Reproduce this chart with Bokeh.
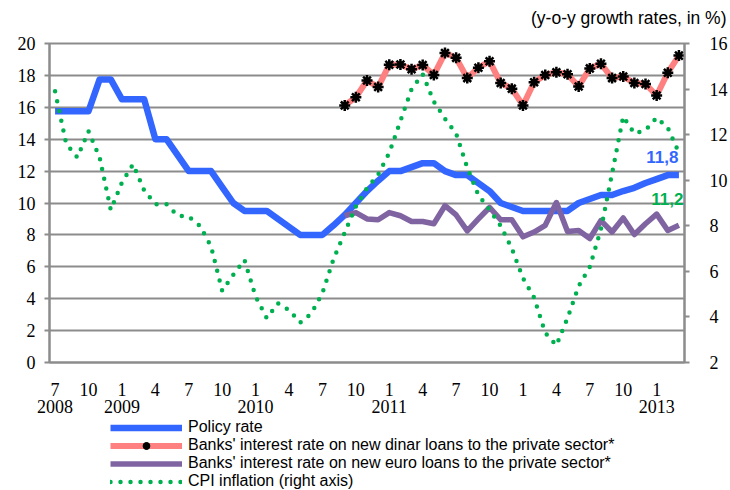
import pandas as pd
from bokeh.plotting import figure
from bokeh.layouts import column
from bokeh.models import (Range1d, LinearAxis, FixedTicker, Legend, LegendItem, Label, Title, Grid)
from bokeh.embed import file_html
from bokeh.resources import INLINE

# ---- data ----
months = [str(p) for p in pd.period_range("2008-07", "2013-03", freq="M")]

policy_rate = [15.75, 15.75, 15.75, 15.75, 17.75, 17.75, 16.5, 16.5, 16.5, 14, 14, 13,
               12, 12, 12, 11, 10, 9.5, 9.5, 9.5, 9, 8.5, 8, 8,
               8, 8.6, 9.25, 10, 10.75, 11.4, 12, 12, 12.25, 12.5, 12.5, 12,
               11.75, 11.75, 11.25, 10.75, 10, 9.75, 9.5, 9.5, 9.5, 9.5, 9.5, 10,
               10.25, 10.5, 10.5, 10.75, 10.95, 11.25, 11.5, 11.75, 11.75]

loans_start = "2010-09"
dinar_loans = [16.12, 16.63, 17.68, 17.27, 18.67, 18.68, 18.38, 18.65, 18.03, 19.4, 19.1,
               17.83, 18.48, 18.89, 17.52, 17.17, 16.12, 17.57, 18.03, 18.2, 18.07, 17.31,
               18.44, 18.73, 17.83, 17.93, 17.52, 17.46, 16.74, 18.17, 19.24]
euro_loans = [9.2, 9.4, 9.0, 8.95, 9.4, 9.2, 8.84, 8.84, 8.7, 9.83, 9.25,
              8.25, 9.0, 9.72, 8.95, 8.95, 7.88, 8.18, 8.6, 10.03, 8.22, 8.28,
              7.77, 8.9, 8.18, 9.06, 8.02, 8.7, 9.3, 8.28, 8.6]

cpi = [13.9, 11.6, 11.0, 12.15, 11.0, 8.7, 9.9, 10.7, 9.55, 8.95, 8.95, 8.45,
       8.4, 8.0, 7.1, 5.15, 5.85, 6.5, 4.9, 3.95, 4.6, 4.3, 3.75, 4.15,
       5.05, 6.55, 7.7, 8.85, 9.65, 10.25, 11.2, 12.6, 14.0, 14.65, 13.45, 12.7,
       12.05, 10.55, 9.35, 8.7, 8.0, 7.0, 5.7, 4.85, 3.3, 2.75, 3.95, 5.35,
       6.2, 7.85, 10.3, 12.8, 12.05, 12.2, 12.75, 12.3, 11.2]

month_tick_labels = ["7", "10", "1", "4"] * 4 + ["7", "10", "1"]
year_tick_months = ["2008-07", "2009-01", "2010-01", "2011-01", "2013-01"]
year_tick_labels = ["2008", "2009", "2010", "2011", "2013"]

left_ticks = list(range(0, 21, 2))
right_ticks = list(range(2, 17, 2))

last_policy_label = "11,8"
last_cpi_label = "11,2"
unit_note = "(y-o-y growth rates, in %)"

legend_labels = ["Policy rate",
                 "Banks' interest rate on new dinar loans to the private sector*",
                 "Banks' interest rate on new euro loans to the private sector*",
                 "CPI inflation (right axis)"]

# ---- derived positions ----
x_all = list(range(len(months)))
i0 = months.index(loans_start)
x_loans = x_all[i0:i0 + len(dinar_loans)]
month_ticks = x_all[::3][:len(month_tick_labels)]
year_of_tick = {months.index(m): y for m, y in zip(year_tick_months, year_tick_labels)}
tick_text = {t: (l + "\n" + year_of_tick[t]) if t in year_of_tick else l
             for t, l in zip(month_ticks, month_tick_labels)}

BLUE = "#3366FF"
RED = "#FF8080"
PURPLE = "#8064A2"
GREEN = "#00B050"
GRID = "#8C8C8C"
SERIF = "Liberation Serif"
SANS = "Liberation Sans"

BLUE_STYLE = dict(line_color=BLUE, line_width=6.5, line_join="round")
RED_STYLE = dict(line_color=RED, line_width=6, line_join="round")
MARK1 = dict(marker="asterisk", size=11, line_color="black", line_width=2.5)
MARK2 = dict(marker="circle", size=5, fill_color="black", line_color="black")
PURPLE_STYLE = dict(line_color=PURPLE, line_width=5.5, line_join="round")
GREEN_STYLE = dict(line_color=GREEN, line_width=4.5, line_dash="0 10", line_cap="round")

p = figure(width=730, height=419, output_backend="svg", toolbar_location=None,
           x_range=Range1d(-0.5, len(months) - 0.5), y_range=Range1d(0, 20),
           min_border_left=49, min_border_right=39, min_border_top=43, min_border_bottom=51,
           x_axis_type=None, y_axis_type=None)
p.background_fill_color = "white"
p.border_fill_color = "white"
p.outline_line_color = GRID
p.outline_line_width = 2
p.extra_y_ranges = {"cpi": Range1d(2, 16)}

# unit note as a right-aligned title above the frame
t = Title(text=unit_note + "\n", align="right", offset=-42, vertical_align="top", standoff=-12,
          text_font=SANS, text_font_size="17.5px", text_font_style="normal", text_color="black",
          text_line_height=1.0)
p.add_layout(t, "above")

# left axis
ya = LinearAxis(ticker=FixedTicker(ticks=left_ticks))
ya.axis_line_color = GRID
ya.axis_line_width = 2
ya.major_tick_line_color = GRID
ya.major_tick_line_width = 2
ya.major_tick_in = 0
ya.major_tick_out = 5
ya.minor_tick_line_color = None
ya.major_label_standoff = 9
ya.major_label_text_font = SERIF
ya.major_label_text_font_size = "18px"
ya.major_label_text_color = "black"
p.add_layout(ya, "left")

# right axis
ra = LinearAxis(y_range_name="cpi", ticker=FixedTicker(ticks=right_ticks))
ra.axis_line_color = GRID
ra.axis_line_width = 2
ra.major_tick_line_color = GRID
ra.major_tick_line_width = 2
ra.major_tick_in = 0
ra.major_tick_out = 5
ra.minor_tick_line_color = None
ra.major_label_standoff = 20
ra.major_label_text_font = SERIF
ra.major_label_text_font_size = "18px"
ra.major_label_text_color = "black"
p.add_layout(ra, "right")

# month / year axis
xa = LinearAxis(ticker=FixedTicker(ticks=month_ticks), major_label_overrides=tick_text)
xa.axis_line_color = GRID
xa.axis_line_width = 2
xa.major_tick_line_color = None
xa.minor_tick_line_color = None
xa.major_label_standoff = 11
xa.major_label_text_font = SERIF
xa.major_label_text_font_size = "18px"
xa.major_label_text_line_height = 0.85
xa.major_label_text_color = "black"
p.add_layout(xa, "below")

# grid
g = Grid(dimension=1, ticker=FixedTicker(ticks=left_ticks))
g.grid_line_color = GRID
g.grid_line_width = 2
p.add_layout(g)

# series
p.line(x_all, policy_rate, **BLUE_STYLE)
p.line(x_loans, dinar_loans, **RED_STYLE)
p.scatter(x_loans, dinar_loans, **MARK1)
p.scatter(x_loans, dinar_loans, **MARK2)
p.line(x_loans, euro_loans, **PURPLE_STYLE)
p.line(x_all, cpi, y_range_name="cpi", **GREEN_STYLE)

# value labels
p.add_layout(Label(x=55.95, y=12.9, text=last_policy_label, text_align="right", text_baseline="middle",
                   text_font=SANS, text_font_size="17px", text_font_style="bold", text_color=BLUE))
p.add_layout(Label(x=56.4, y=10.28, text=last_cpi_label, text_align="right", text_baseline="middle",
                   text_font=SANS, text_font_size="17px", text_font_style="bold", text_color=GREEN))

# ---- legend strip below the chart (series drawn off-range, only their legend glyphs show) ----
q = figure(width=730, height=71, output_backend="svg", toolbar_location=None,
           x_range=Range1d(-1000, -999), y_range=Range1d(-1000, -999), min_border=0,
           x_axis_type=None, y_axis_type=None)
q.outline_line_color = None
q.background_fill_color = "white"
q.border_fill_color = "white"
lb = q.line(x_all, policy_rate, **BLUE_STYLE)
lr = q.line(x_loans, dinar_loans, **RED_STYLE)
lm1 = q.scatter(x_loans, dinar_loans, **MARK1)
lm2 = q.scatter(x_loans, dinar_loans, **MARK2)
lp = q.line(x_loans, euro_loans, **PURPLE_STYLE)
lg = q.line(x_all, cpi, **GREEN_STYLE)

legend = Legend(items=[
    LegendItem(label=legend_labels[0], renderers=[lb]),
    LegendItem(label=legend_labels[1], renderers=[lr, lm1, lm2]),
    LegendItem(label=legend_labels[2], renderers=[lp]),
    LegendItem(label=legend_labels[3], renderers=[lg]),
], location=(61, 0))
legend.padding = 0
legend.margin = 0
legend.spacing = 0
legend.glyph_width = 72
legend.glyph_height = 17
legend.label_height = 17
legend.label_standoff = 6
legend.border_line_color = None
legend.background_fill_alpha = 0
legend.label_text_font = SANS
legend.label_text_font_size = "16px"
legend.label_text_line_height = 1.0
legend.label_text_color = "black"
q.add_layout(legend, "center")

layout = column(p, q, spacing=0)
open("out.html", "w").write(file_html(layout, INLINE))
